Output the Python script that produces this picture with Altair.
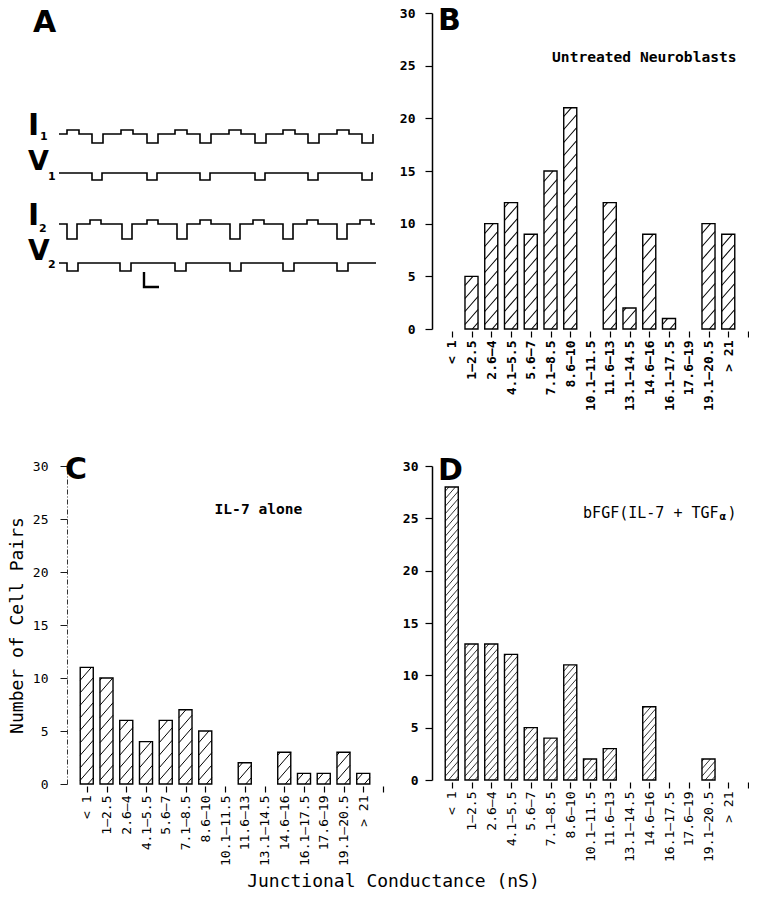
import altair as alt
import pandas as pd

# ---------------- data ----------------
categories = ["< 1", "1\u20142.5", "2.6\u20144", "4.1\u20145.5", "5.6\u20147", "7.1\u20148.5",
              "8.6\u201410", "10.1\u201411.5", "11.6\u201413", "13.1\u201414.5", "14.6\u201416",
              "16.1\u201417.5", "17.6\u201419", "19.1\u201420.5", "> 21"]
untreated = [0, 5, 10, 12, 9, 15, 21, 0, 12, 2, 9, 1, 0, 10, 9]
il7_alone = [11, 10, 6, 4, 6, 7, 5, 0, 2, 0, 3, 1, 1, 3, 1]
bfgf_il7_tgf = [28, 13, 13, 12, 5, 4, 11, 2, 3, 0, 7, 0, 0, 2, 0]
y_ticks = [0, 5, 10, 15, 20, 25, 30]

# Panel A: recorded traces (arbitrary time / amplitude units), pulse start times
i1_up_starts = [8, 62, 116, 170, 224, 278]
i1_down_starts = [33, 88, 141, 196, 249, 303]
v1_down_starts = [33, 88, 141, 196, 249, 303]
i2_down_starts = [8, 63, 118, 171, 224, 278]
i2_up_starts = [31, 88, 141, 194, 248, 301]
v2_down_starts = [8, 61, 116, 171, 224, 278]
pulse_widths = {"I1 up": 12, "I1 down": 11, "V1 down": 10, "I2 down": 10, "I2 up": 11, "V2 down": 11}
pulse_amps = {"I1 up": 4, "I1 down": -9, "V1 down": -7, "I2 down": -15, "I2 up": 4, "V2 down": -8}
trace_ends = {"I1": 314, "V1": 314, "I2": 316, "V2": 317}
scale_bar_t = [85, 85, 100]
scale_bar_v = [57, 42, 42]

# ---------------- style / layout ----------------
MONO = "DejaVu Sans Mono"
HEAVY = "DejaVu Sans"
W = 316
HALF = 0.33
SLOPE = 1.15
TRACE_BASE = {"I1": 195, "V1": 156, "I2": 105, "V2": 66}

label_expr = "[" + ",".join("'" + c + "'" for c in categories + [""]) + "][datum.value]"


def hatch_rows(values, height, gap):
    pxx = W / 16.0
    pxy = height / 30.0
    w = 2 * HALF * pxx
    out = []
    for i, v in enumerate(values):
        if v <= 0:
            continue
        h = v * pxy
        c = -SLOPE * w + gap * 0.5
        while c < h:
            xa = max(0.0, -c / SLOPE)
            xb = min(w, (h - c) / SLOPE)
            if xb - xa > 0.3:
                out.append({"hx": i - HALF + xa / pxx, "hx2": i - HALF + xb / pxx,
                            "hy": (SLOPE * xa + c) / pxy, "hy2": (SLOPE * xb + c) / pxy})
            c += gap
    return pd.DataFrame(out)


def histogram(values, height, letter, letter_xy, texts, xbold, ybold, gap, hatch_w,
              y_title=None, dash=None, label_pad=10):
    xs = alt.Scale(domain=[-1, 15], nice=False, zero=False)
    ys = alt.Scale(domain=[0, 30], nice=False, zero=False)
    bars = pd.DataFrame([{"cat": categories[i], "x0": i - HALF, "x1": i + HALF, "y0": 0, "y1": v}
                         for i, v in enumerate(values) if v > 0])
    xaxis = alt.Axis(values=list(range(16)), labelExpr=label_expr, labelAngle=270,
                     labelAlign="right", labelBaseline="middle", labelFont=MONO,
                     labelFontSize={"condition": {"test": "datum.value >= 15", "value": 0},
                                    "value": 13},
                     labelFontWeight="bold" if xbold else "normal", labelColor="black",
                     labelPadding=3, labelFlush=False, labelOverlap=False, domain=False,
                     ticks=True, tickSize=6, tickWidth=1.2, tickColor="black", grid=False,
                     offset=2)
    ykw = dict(values=y_ticks, labelFont=MONO, labelFontSize=13,
               labelFontWeight="bold" if ybold else "normal",
               labelColor="black", labelPadding=label_pad, labelFlush=False, domain=True,
               domainColor="black", domainWidth=1.5, ticks=True, tickSize=7, tickWidth=1.2,
               tickColor="black", grid=False)
    if y_title:
        ykw.update(titleFont=MONO, titleFontSize=18, titleFontWeight="normal",
                   titleColor="black", titlePadding=6)
    if dash:
        ykw.update(domainDash=dash, domainWidth=1.0, domainColor="#333333", tickWidth=0.9)
    yaxis = alt.Axis(**ykw)

    def xenc(f):
        return alt.X(f, scale=xs, axis=xaxis, title=None)

    def yenc(f):
        return alt.Y(f, scale=ys, axis=yaxis, title=y_title)

    bar_layer = alt.Chart(bars).mark_rect(fill="white", stroke="black", strokeWidth=1.4).encode(
        x=xenc("x0:Q"), x2="x1:Q", y=yenc("y0:Q"), y2="y1:Q")
    hatch_layer = alt.Chart(hatch_rows(values, height, gap)).mark_rule(
        color="black", strokeWidth=hatch_w).encode(
        x=xenc("hx:Q"), x2="hx2:Q", y=yenc("hy:Q"), y2="hy2:Q")
    layers = [bar_layer, hatch_layer]
    for txt, tx, ty, fs, fw in texts:
        layers.append(alt.Chart(pd.DataFrame([{"tx": tx, "ty": ty, "txt": txt}])).mark_text(
            font=MONO, fontSize=fs, fontWeight=fw, align="left", baseline="middle",
            color="black").encode(x=xenc("tx:Q"), y=yenc("ty:Q"), text="txt:N"))
    layers.append(alt.Chart(pd.DataFrame([{"tx": letter_xy[0], "ty": letter_xy[1], "txt": letter}])).mark_text(
        font=HEAVY, fontSize=30, fontWeight="bold", align="left", baseline="top",
        color="black").encode(x=xenc("tx:Q"), y=yenc("ty:Q"), text="txt:N"))
    return alt.layer(*layers).properties(width=W, height=height)


# ---------------- panel A ----------------
def trace_frame():
    specs = {"I1": [("I1 up", i1_up_starts), ("I1 down", i1_down_starts)],
             "V1": [("V1 down", v1_down_starts)],
             "I2": [("I2 down", i2_down_starts), ("I2 up", i2_up_starts)],
             "V2": [("V2 down", v2_down_starts)]}
    rows = []
    for name, plist in specs.items():
        pulses = sorted((s, pulse_widths[k], pulse_amps[k]) for k, starts in plist for s in starts)
        pts = [(0, 0)]
        for s, w, a in pulses:
            pts += [(s, 0), (s, a), (s + w, a), (s + w, 0)]
        pts.append((trace_ends[name], 0))
        for k, (t, a) in enumerate(pts):
            rows.append({"trace": name, "k": k, "t": t, "v": TRACE_BASE[name] + a})
    return pd.DataFrame(rows)


axs = alt.Scale(domain=[8, 324], nice=False, zero=False)
ays = alt.Scale(domain=[0, 316], nice=False, zero=False)

traces = alt.Chart(trace_frame()).mark_line(color="black", strokeWidth=1.6).encode(
    x=alt.X("t:Q", scale=axs, axis=None), y=alt.Y("v:Q", scale=ays, axis=None),
    detail="trace:N", order="k:Q")
scale_bar = alt.Chart(pd.DataFrame({"t": scale_bar_t, "v": scale_bar_v, "k": [0, 1, 2]})).mark_line(
    color="black", strokeWidth=2.4).encode(
    x=alt.X("t:Q", scale=axs, axis=None), y=alt.Y("v:Q", scale=ays, axis=None), order="k:Q")
a_letter = alt.Chart(pd.DataFrame([{"txt": "A", "t": -26, "v": 321}])).mark_text(
    font=HEAVY, fontWeight="bold", fontSize=30, align="left", baseline="top", color="black").encode(
    x=alt.X("t:Q", scale=axs, axis=None), y=alt.Y("v:Q", scale=ays, axis=None), text="txt:N")
a_labels = pd.DataFrame([
    {"txt": "I", "t": -31, "v": 194, "fs": 30},
    {"txt": "1", "t": -19, "v": 189, "fs": 11},
    {"txt": "V", "t": -31, "v": 159, "fs": 27},
    {"txt": "1", "t": -11, "v": 149, "fs": 11},
    {"txt": "I", "t": -31, "v": 104, "fs": 30},
    {"txt": "2", "t": -20, "v": 97, "fs": 11},
    {"txt": "V", "t": -31, "v": 69, "fs": 28},
    {"txt": "2", "t": -11, "v": 61, "fs": 11},
])
a_text = alt.Chart(a_labels).mark_text(font=HEAVY, fontWeight="bold", align="left",
                                       baseline="alphabetic", color="black").encode(
    x=alt.X("t:Q", scale=axs, axis=None), y=alt.Y("v:Q", scale=ays, axis=None),
    text="txt:N", size=alt.Size("fs:Q", scale=None, legend=None))
panel_a = alt.layer(traces, scale_bar, a_letter, a_text).properties(width=W, height=316)

# ---------------- panels B, C, D ----------------
CW = 0.602 * 15 / (W / 16.0)  # one monospace character of the D label, in x units
panel_b = histogram(untreated, 316, "B", (-0.70, 30.66),
                    [("Untreated Neuroblasts", 5.08, 25.7, 14.6, "bold")],
                    xbold=True, ybold=True, gap=13, hatch_w=1.1, label_pad=10)
panel_c = histogram(il7_alone, 318, "C", (-1.1, 31.04),
                    [("IL-7 alone", 6.47, 25.85, 14.6, "bold")],
                    xbold=False, ybold=False, gap=12.5, hatch_w=1.0,
                    y_title="Number of Cell Pairs", dash=[5, 2, 1, 2], label_pad=12)
panel_d = histogram(bfgf_il7_tgf, 314, "D", (-0.70, 30.95),
                    [("bFGF(IL-7 + TGF", 6.65, 25.5, 15, "normal"),
                     ("\u03b1", 6.65 + 15.1 * CW, 25.1, 11, "bold"),
                     (")", 6.65 + 16 * CW, 25.5, 15, "normal")],
                    xbold=False, ybold=True, gap=7.5, hatch_w=0.8, label_pad=7)

chart = alt.concat(panel_a, panel_b, panel_c, panel_d, columns=2,
                   spacing={"row": 137, "column": 49}, bounds="flush").properties(
    title=alt.TitleParams("Junctional Conductance (nS)", orient="bottom", anchor="middle",
                          font=MONO, fontSize=18, fontWeight="normal", color="black",
                          offset=8, dx=15),
    padding={"left": 0, "top": -2, "right": 0, "bottom": -2},
    background="white",
).configure_view(stroke=None)

chart.save("out.html", embed_options={"renderer": "svg", "actions": False})
